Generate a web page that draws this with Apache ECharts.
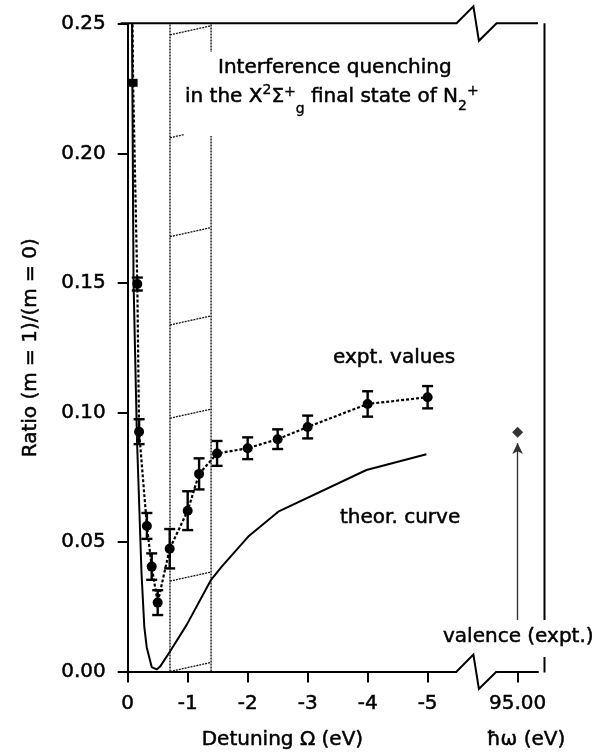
<!DOCTYPE html>
<html><head><meta charset="utf-8">
<script src="https://cdn.jsdelivr.net/npm/echarts@6/dist/echarts.min.js"></script>
<style>html,body{margin:0;padding:0;background:#fff}#c{width:610px;height:753px}</style>
</head><body><div id="c"></div>
<script>
// ---------- data ----------
const yTickValues = [0, 0.05, 0.10, 0.15, 0.20, 0.25];
const xTickValues = [0, -1, -2, -3, -4, -5];
// position of the hbar-omega = 95.00 tick on the broken detuning axis
const valenceAxisPos = -6.5;
const valenceHw = [95.00];
const valenceRatio = [0.0924];
const valenceArrow = [0.0199, 0.0882];

// experimental values (first entry: continuation of the dotted line above the frame)
const exptX   = [-0.06, -0.09, -0.16, -0.19, -0.32, -0.40, -0.50, -0.70, -1.00, -1.19, -1.49, -2.0, -2.5, -3.0, -4.0, -5.0];
const exptY   = [0.30, 0.2273, 0.1496, 0.0926, 0.0562, 0.0405, 0.0266, 0.0474, 0.0621, 0.0763, 0.0842, 0.0862, 0.0897, 0.0944, 0.1033, 0.1059];
const exptErr = [0, 0, 0.0025, 0.0048, 0.0050, 0.0051, 0.0048, 0.0076, 0.0075, 0.0060, 0.0048, 0.0042, 0.0038, 0.0044, 0.0049, 0.0043];

// theoretical curve
const theoX = [-0.072, -0.097, -0.155, -0.23, -0.277, -0.317, -0.40, -0.483, -0.54, -0.705, -0.983, -1.39, -1.567, -2.01, -2.51, -3.98, -4.98];
const theoY = [0.25, 0.151, 0.0894, 0.0381, 0.0172, 0.0094, 0.0017, 0.0008, 0.0019, 0.0077, 0.0180, 0.0354, 0.0405, 0.0521, 0.0617, 0.0778, 0.0839];

// hatched band
const bandX = [-0.705, -1.39];
const hatchY = [0.2458, 0.2061, 0.1679, 0.1338, 0.0978, 0.0349, 0.0];
const hatchRise = 0.0035;

// broken-axis region (axis units)
const breakX = [-5.483, -6.15];

// ---------- chart ----------
const FONT = '"DejaVu Sans", sans-serif';
const chart = echarts.init(document.getElementById('c'));
const HEAVY = { textBorderColor: '#000', textBorderWidth: 0.5 };

function fmtX(v) {
  if (Math.abs(v - valenceAxisPos) < 1e-9) return valenceHw[0].toFixed(2);
  return String(v);
}

const exptData = exptX.map((x, i) => {
  const it = { value: [x, exptY[i]] };
  if (i === 0) it.symbol = 'none';
  if (i === 1) { it.symbol = 'rect'; it.symbolSize = [9, 8]; }
  return it;
});
const errData = exptX.map((x, i) => [x, exptY[i], exptErr[i]]).filter(d => d[2] > 0);

const option = {
  animation: false,
  backgroundColor: '#fff',
  grid: { left: 127.7, right: 72, top: 24, bottom: 81.5 },
  xAxis: {
    type: 'value', inverse: true, min: -6.84, max: 0,
    axisLine: { show: true, lineStyle: { color: '#000', width: 2 } },
    axisTick: { show: true, length: 11, lineStyle: { color: '#000', width: 2 },
                customValues: xTickValues.concat([valenceAxisPos]) },
    axisLabel: Object.assign({ customValues: xTickValues.concat([valenceAxisPos]), formatter: fmtX,
                 fontSize: 20, fontFamily: FONT, color: '#000', margin: 22 }, HEAVY),
    splitLine: { show: false }
  },
  yAxis: {
    type: 'value', min: 0, max: 0.25, interval: 0.05, offset: 7,
    axisLine: { show: true, lineStyle: { color: '#000', width: 2 } },
    axisTick: { show: true, length: 10, lineStyle: { color: '#000', width: 2 } },
    axisLabel: Object.assign({ formatter: v => v.toFixed(2), fontSize: 20, fontFamily: FONT, color: '#000', margin: 15 }, HEAVY),
    splitLine: { show: false },
    name: 'Ratio (m = 1)/(m = 0)', nameLocation: 'middle', nameGap: 80,
    nameTextStyle: Object.assign({ fontSize: 20, fontFamily: FONT, color: '#000' }, HEAVY)
  },
  series: [
    { // vertical dotted band borders
      type: 'custom', z: 1, silent: true,
      data: bandX.map(x => [x, 0]),
      encode: { x: 0, y: 1 },
      renderItem(params, api) {
        const p1 = api.coord([api.value(0), 0]);
        const p2 = api.coord([api.value(0), 0.25]);
        return { type: 'line', shape: { x1: p1[0], y1: p1[1], x2: p2[0], y2: p2[1] },
                 style: { stroke: '#111', lineWidth: 1.4, lineDash: [2, 1] } };
      }
    },
    { // hatching
      type: 'custom', z: 1, silent: true,
      data: hatchY.map(y => [bandX[0], y]),
      encode: { x: 0, y: 1 },
      renderItem(params, api) {
        const y = api.value(1);
        const p1 = api.coord([bandX[0], y]);
        const p2 = api.coord([bandX[1], y + hatchRise]);
        return { type: 'line', shape: { x1: p1[0], y1: p1[1], x2: p2[0], y2: p2[1] },
                 style: { stroke: '#111', lineWidth: 1.3, lineDash: [2, 1] } };
      }
    },
    { // theory
      type: 'line', name: 'theor. curve', data: theoX.map((x, i) => [x, theoY[i]]),
      symbol: 'none', lineStyle: { color: '#000', width: 2 }, z: 3
    },
    { // experiment
      type: 'line', name: 'expt. values', data: exptData,
      symbol: 'circle', symbolSize: 10, showAllSymbol: true,
      lineStyle: { color: '#000', width: 2.2, type: [3, 2] },
      itemStyle: { color: '#000' }, z: 4
    },
    { // error bars
      type: 'custom', z: 5, data: errData, encode: { x: 0, y: 1 },
      renderItem(params, api) {
        const x = api.value(0), y = api.value(1), e = api.value(2);
        const top = api.coord([x, y + e]);
        const bot = api.coord([x, y - e]);
        const hw = 5.5;
        const st = { stroke: '#000', lineWidth: 2.4 };
        return { type: 'group', children: [
          { type: 'line', shape: { x1: top[0], y1: top[1], x2: bot[0], y2: bot[1] }, style: st },
          { type: 'line', shape: { x1: top[0] - hw, y1: top[1], x2: top[0] + hw, y2: top[1] }, style: st },
          { type: 'line', shape: { x1: bot[0] - hw, y1: bot[1], x2: bot[0] + hw, y2: bot[1] }, style: st }
        ] };
      }
    },
    { // valence point + arrow
      type: 'scatter', name: 'valence (expt.)',
      data: valenceRatio.map(v => [valenceAxisPos, v]),
      symbol: 'diamond', symbolSize: [11, 11], itemStyle: { color: '#000' }, z: 5,
      markLine: {
        silent: true, animation: false,
        symbol: ['none', 'arrow'], symbolSize: [8, 11],
        label: { show: false },
        lineStyle: { color: '#333', width: 1.4, type: 'solid' },
        data: [[{ coord: [valenceAxisPos, valenceArrow[0]] }, { coord: [valenceAxisPos, valenceArrow[1]] }]]
      }
    }
  ]
};
chart.setOption(option);

// ---------- decorations ----------
function px(x, y) { return chart.convertToPixel({ gridIndex: 0 }, [x, y]); }
function measure(t, size) {
  const c = document.createElement('canvas').getContext('2d');
  c.font = size + 'px "DejaVu Sans"';
  return c.measureText(t).width;
}
const TS = (size) => Object.assign({ fontSize: size, fontFamily: FONT, fill: '#000', stroke: '#000', lineWidth: size >= 18 ? 0.5 : 0.35 });
const mid = (baseline, size) => baseline - 0.346 * size;

const p00 = px(0, 0), pTop = px(0, 0.25), pEnd = px(-6.84, 0);
const bS = px(breakX[0], 0)[0], bE = px(breakX[1], 0)[0];
const yB = p00[1], yT = pTop[1] - 0.7;
const yAxisX = p00[0] - 7;
const rightX = pEnd[0] + 6.5;
const zig = (x0, x1, y) => [[x0, y], [x0 + 16.8, y - 17], [x0 + 22.3, y + 17.5], [x1, y]];

const g = [];
// top frame with zigzag
g.push({ type: 'polyline', z: 50, shape: { points: [[yAxisX, yT]].concat(zig(bS, bE, yT)).concat([[pEnd[0], yT]]) },
         style: { stroke: '#000', lineWidth: 2, fill: null } });
// bottom break
g.push({ type: 'rect', z: 49, shape: { x: bS + 0.5, y: yB - 3, width: bE - bS - 1, height: 6 }, style: { fill: '#fff' } });
g.push({ type: 'polyline', z: 50, shape: { points: zig(bS, bE, yB) }, style: { stroke: '#000', lineWidth: 2, fill: null } });
// right frame (gap for label)
g.push({ type: 'line', z: 50, shape: { x1: rightX, y1: yT, x2: rightX, y2: 620 }, style: { stroke: '#000', lineWidth: 2 } });
g.push({ type: 'line', z: 50, shape: { x1: rightX, y1: 657, x2: rightX, y2: yB + 1 }, style: { stroke: '#000', lineWidth: 2 } });

// title box
g.push({ type: 'rect', z: 40, shape: { x: 184, y: 52, width: 290, height: 84 }, style: { fill: '#fff' } });
g.push({ type: 'text', z: 51, style: Object.assign(TS(20), { text: 'Interference quenching', x: 218, y: mid(74.3, 20), align: 'left', verticalAlign: 'middle' }) });
// second line with super/subscripts
const segs = [
  ['in the X', 20, 0], ['2', 14, -9], ['Σ', 20, 0], ['+', 14, -7], ['g', 14, 10],
  [' final state of N', 20, 0], ['2', 14, 7], ['+', 14, -8]
];
let cx = 185; const base2 = 104;
segs.forEach(([t, s, dy]) => {
  g.push({ type: 'text', z: 51, style: Object.assign(TS(s), { text: t, x: cx, y: mid(base2 + dy, s), align: 'left', verticalAlign: 'middle' }) });
  cx += measure(t, s);
});

g.push({ type: 'text', z: 51, style: Object.assign(TS(20), { text: 'expt. values', x: 333, y: mid(365, 20), align: 'left', verticalAlign: 'middle' }) });
g.push({ type: 'text', z: 51, style: Object.assign(TS(20), { text: 'theor. curve', x: 340, y: mid(525, 20), align: 'left', verticalAlign: 'middle' }) });
g.push({ type: 'text', z: 51, style: Object.assign(TS(20), { text: 'valence (expt.)', x: 443, y: mid(643.3, 20), align: 'left', verticalAlign: 'middle' }) });
g.push({ type: 'text', z: 51, style: Object.assign(TS(20), { text: 'Detuning Ω (eV)', x: 201.7, y: mid(746.5, 20), align: 'left', verticalAlign: 'middle' }) });
g.push({ type: 'text', z: 51, style: Object.assign(TS(20), { text: 'ħω (eV)', x: 486.7, y: mid(746.5, 20), align: 'left', verticalAlign: 'middle' }) });

chart.setOption({ graphic: { elements: g } });
</script>
</body></html>
